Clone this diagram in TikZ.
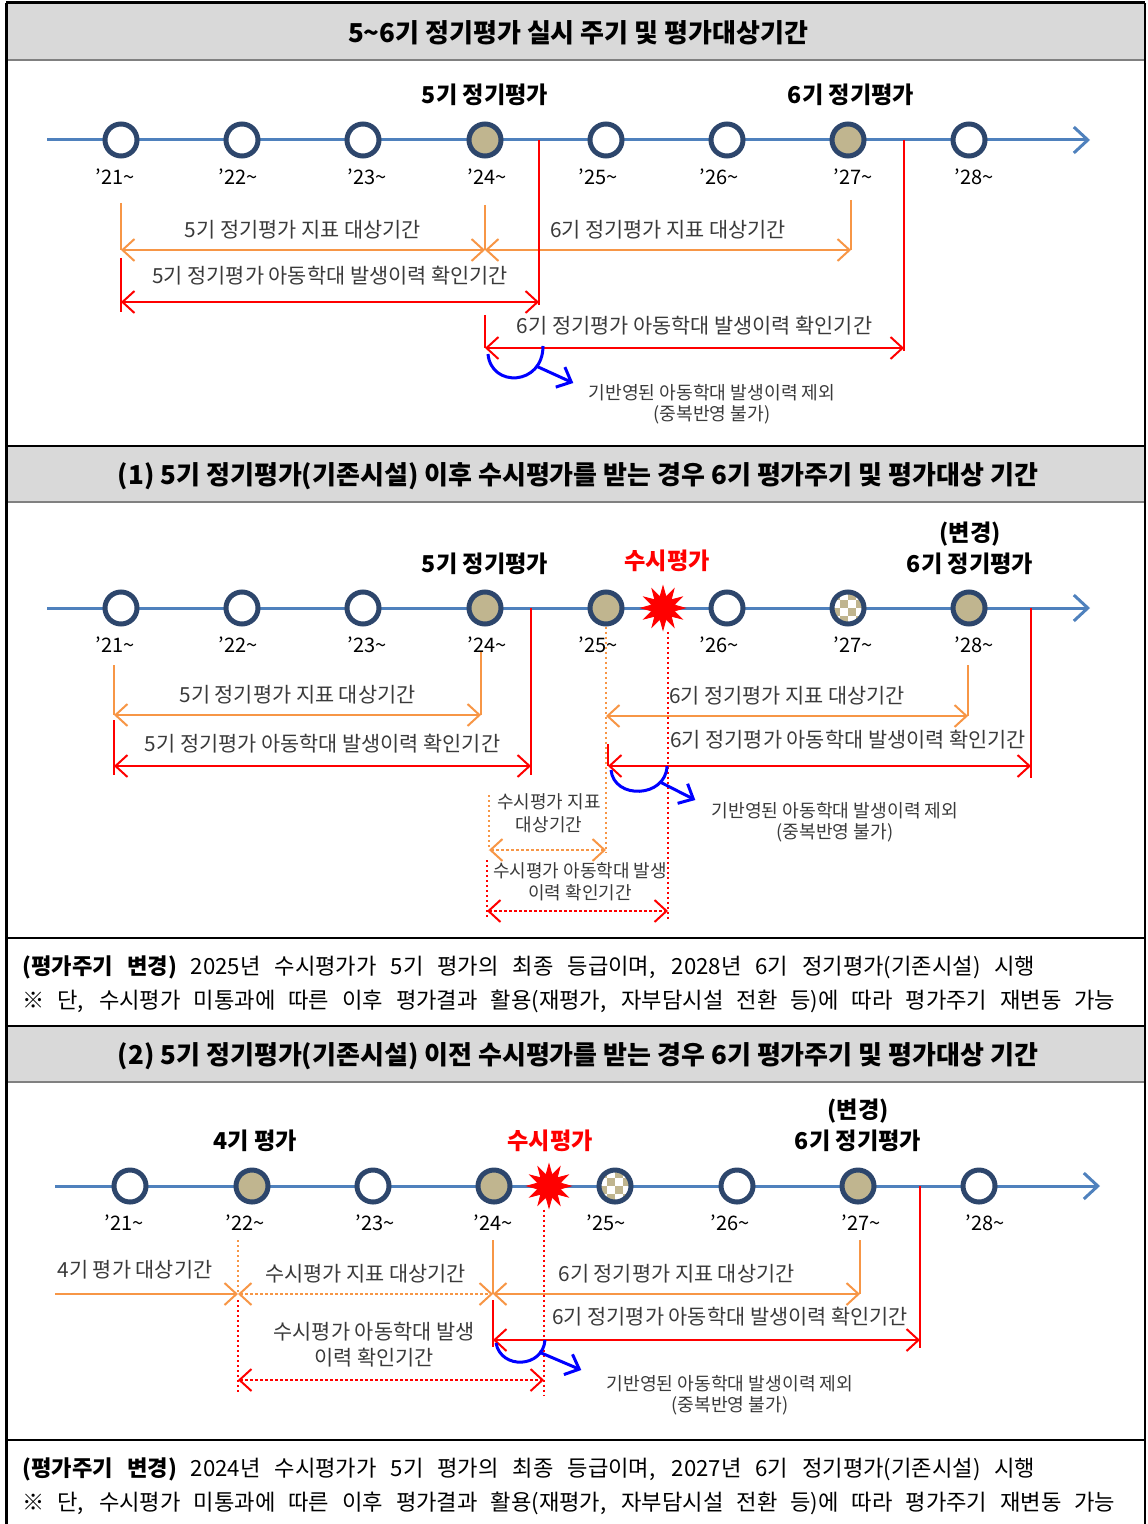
\documentclass[tikz,border=0pt]{standalone}
\usepackage{fontspec}
\setmainfont{Noto Sans CJK KR}
\usepackage{tikz}
\usetikzlibrary{calc}
\usetikzlibrary{arrows.meta}
\usetikzlibrary{shapes.geometric}

\definecolor{tlblue}{RGB}{79,129,189}
\definecolor{ringblue}{RGB}{45,70,108}
\definecolor{tanfill}{RGB}{192,181,143}
\definecolor{perorange}{RGB}{247,150,70}
\definecolor{headgray}{RGB}{217,217,217}
\definecolor{txtgray}{RGB}{58,58,58}

\begin{document}
\begin{tikzpicture}[x=0.5pt,y=-0.5pt]
  \tikzset{barbs/.style={>={Straight Barb[length=6pt,width=11pt]}}};
  \tikzset{tline/.style={draw=tlblue, line width=1.5pt, -{Straight Barb[length=7pt,width=13pt]}}};
  \tikzset{yr/.style={circle, draw=ringblue, line width=2.5pt, fill=white, minimum size=16pt, inner sep=0pt}};
  \tikzset{yrdone/.style={yr, fill=tanfill}};
  \tikzset{yrchk/.style={yr, fill=tanfill, path picture={
      \foreach \i/\j in {0/0,2/0,1/1,3/1,0/2,2/2,1/3,3/3}
        \fill[white] ($(path picture bounding box.south west)+(\i*4pt,\j*4pt)$) rectangle +(4pt,4pt);}}};
  \tikzset{yrlab/.style={inner sep=0pt, font=\fontsize{10}{10}\selectfont}};
  \tikzset{mstone/.style={inner sep=0pt, font=\fontsize{11.6}{12}\selectfont\bfseries}};
  \tikzset{susi/.style={mstone, text=red}};
  \tikzset{burst/.style={star, star points=12, star point ratio=1.9, fill=red, draw=red, minimum size=22pt, inner sep=0pt}};
  \tikzset{orng/.style={draw=perorange, line width=1pt}};
  \tikzset{rd/.style={draw=red, line width=1pt}};
  \tikzset{dots/.style={dash pattern=on 1.2pt off 1.3pt}};
  \tikzset{per/.style={inner sep=0pt, text=txtgray, font=\fontsize{10.4}{12}\selectfont}};
  \tikzset{persmall/.style={per, font=\fontsize{9}{11}\selectfont}};
  \tikzset{dup/.style={inner sep=0pt, text=txtgray, font=\fontsize{9.1}{10}\selectfont}};
  \tikzset{hook/.style={draw=blue, line width=1.5pt, >={Straight Barb[length=6pt,width=11pt]}}};
  \tikzset{hdr/.style={inner sep=0pt, font=\fontsize{13}{13}\selectfont\bfseries}};
  \tikzset{note/.style={inner sep=0pt, anchor=west, font=\fontsize{11.1}{12}\selectfont}};

  \useasboundingbox (0,0) rectangle (1147,1524);

  % frame and title bands
  \fill[headgray] (6,3) rectangle (1145,60);
  \fill[headgray] (6,447) rectangle (1145,502);
  \fill[headgray] (6,1027) rectangle (1145,1082);
  \draw[line width=1.5pt] (6,3) -- (1145,3);
  \draw[line width=1pt, gray] (6,60) -- (1145,60);
  \draw[line width=1.2pt] (6,446) -- (1145,446);
  \draw[line width=1pt, gray] (6,502) -- (1145,502);
  \draw[line width=0.6pt] (6,938) -- (1145,938);
  \draw[line width=1.2pt] (6,1026) -- (1145,1026);
  \draw[line width=1pt, gray] (6,1082) -- (1145,1082);
  \draw[line width=0.6pt] (6,1440) -- (1145,1440);
  \draw[line width=1.5pt] (6,3) -- (6,1524);
  \draw[line width=1pt] (1145,3) -- (1145,1524);

  \node[hdr] (h1) at (578,33) {5\textasciitilde6기 정기평가 실시 주기 및 평가대상기간};
  \node[hdr] (h2) at (578,476) {(1) 5기 정기평가(기존시설) 이후 수시평가를 받는 경우 6기 평가주기 및 평가대상 기간};
  \node[hdr] (h3) at (578,1056) {(2) 5기 정기평가(기존시설) 이전 수시평가를 받는 경우 6기 평가주기 및 평가대상 기간};

  %%% 5~6 regular cycle
  \coordinate (as) at (47,140);  \coordinate (ae) at (1090,140);
  \draw[tline] (as) -- (ae);
  \node[yr] (a21) at (121,140) {};
  \node[yr] (a22) at (242,140) {};
  \node[yr] (a23) at (363,140) {};
  \node[yrdone] (a24) at (485,140) {};
  \node[yr] (a25) at (606,140) {};
  \node[yr] (a26) at (727,140) {};
  \node[yrdone] (a27) at (848,140) {};
  \node[yr] (a28) at (969,140) {};
  \node[yrlab] at ($(a21)+(-6,37)$) {’21\textasciitilde};
  \node[yrlab] at ($(a22)+(-4,37)$) {’22\textasciitilde};
  \node[yrlab] at ($(a23)+(4,37)$) {’23\textasciitilde};
  \node[yrlab] at ($(a24)+(2,37)$) {’24\textasciitilde};
  \node[yrlab] at ($(a25)+(-8,37)$) {’25\textasciitilde};
  \node[yrlab] at ($(a26)+(-8,37)$) {’26\textasciitilde};
  \node[yrlab] at ($(a27)+(5,37)$) {’27\textasciitilde};
  \node[yrlab] at ($(a28)+(5,37)$) {’28\textasciitilde};
  \node[mstone] (a5t) at (485,95) {5기 정기평가};
  \node[mstone] (a6t) at (851,95) {6기 정기평가};

  \coordinate (a5il) at (121,250);  \coordinate (a5ir) at (485,250);
  \coordinate (a6ir) at (851,250);
  \draw[orng] ($(a5il)+(0,-47)$) -- (a5il);
  \draw[orng] ($(a5ir)+(0,-45)$) -- (a5ir);
  \draw[orng] ($(a6ir)+(0,-50)$) -- (a6ir);
  \draw[orng, barbs, <->] (a5il) -- (a5ir) node[per, midway, above=5pt] {5기 정기평가 지표 대상기간};
  \draw[orng, barbs, <->] (a5ir) -- (a6ir) node[per, midway, above=5pt] {6기 정기평가 지표 대상기간};

  \coordinate (a5hl) at (121,302);  \coordinate (a5hr) at (539,302);
  \draw[rd] ($(a5hl)+(0,-44)$) -- ($(a5hl)+(0,10)$);
  \draw[rd] (a5hr |- as) -- ($(a5hr)+(0,3)$);
  \draw[rd, barbs, <->] (a5hl) -- (a5hr) node[per, midway, above=8pt] {5기 정기평가 아동학대 발생이력 확인기간};

  \coordinate (a6hl) at (485,348);  \coordinate (a6hr) at (904,348);
  \draw[rd] ($(a6hl)+(0,-33)$) -- (a6hl);
  \draw[rd] (a6hr |- as) -- ($(a6hr)+(0,3)$);
  \draw[rd, barbs, <->] (a6hl) -- (a6hr) node[per, midway, above=6pt] {6기 정기평가 아동학대 발생이력 확인기간};

  \node[dup] (adup1) at (712,393) {기반영된 아동학대 발생이력 제외};
  \node[dup] (adup2) at (712,415) {(중복반영 불가)};
  \draw[hook] ($(a6hl)+(3,6)$) .. controls ($(a6hl)+(6,40)$) and ($(a6hl)+(58,38)$) .. ($(a6hl)+(58,-2)$);
  \draw[hook, ->] ($(a6hl)+(51,18)$) -- ($(adup1.west)+(-15,-10)$);

  %%% (1) 수시평가 after 5th
  \coordinate (bs) at (47,608);  \coordinate (be) at (1090,608);
  \draw[tline] (bs) -- (be);
  \node[yr] (b21) at (121,608) {};
  \node[yr] (b22) at (242,608) {};
  \node[yr] (b23) at (363,608) {};
  \node[yrdone] (b24) at (485,608) {};
  \node[yrdone] (b25) at (606,608) {};
  \node[yr] (b26) at (727,608) {};
  \node[yrchk] (b27) at (848,608) {};
  \node[yrdone] (b28) at (969,608) {};
  \node[burst] (bst) at (663,608) {};
  \node[yrlab] at ($(b21)+(-6,37)$) {’21\textasciitilde};
  \node[yrlab] at ($(b22)+(-4,37)$) {’22\textasciitilde};
  \node[yrlab] at ($(b23)+(4,37)$) {’23\textasciitilde};
  \node[yrlab] at ($(b24)+(2,37)$) {’24\textasciitilde};
  \node[yrlab] at ($(b25)+(-8,37)$) {’25\textasciitilde};
  \node[yrlab] at ($(b26)+(-8,37)$) {’26\textasciitilde};
  \node[yrlab] at ($(b27)+(5,37)$) {’27\textasciitilde};
  \node[yrlab] at ($(b28)+(5,37)$) {’28\textasciitilde};
  \node[mstone] (b5t) at (485,564) {5기 정기평가};
  \node[susi] (bsu) at (667,561) {수시평가};
  \node[mstone] (bchg) at (970,534) {(변경)};
  \node[mstone] (b6t) at (970,564) {6기 정기평가};

  \coordinate (b5il) at (114,715);  \coordinate (b5ir) at (481,715);
  \draw[orng] ($(b5il)+(0,-50)$) -- (b5il);
  \draw[orng] ($(b5ir)+(0,-63)$) -- (b5ir);
  \draw[orng, barbs, <->] (b5il) -- (b5ir) node[per, midway, above=5pt] {5기 정기평가 지표 대상기간};

  \coordinate (b5hl) at (114,766);  \coordinate (b5hr) at (531,766);
  \draw[rd] ($(b5hl)+(0,-46)$) -- ($(b5hl)+(0,9)$);
  \draw[rd] (b5hr |- bs) -- ($(b5hr)+(0,9)$);
  \draw[rd, barbs, <->] (b5hl) -- (b5hr) node[per, midway, above=6pt] {5기 정기평가 아동학대 발생이력 확인기간};

  \coordinate (b6il) at (606,716);  \coordinate (b6ir) at (968,716);
  \draw[orng] ($(b6ir)+(0,-51)$) -- (b6ir);
  \draw[orng, barbs, <->] (b6il) -- (b6ir) node[per, midway, above=5pt] {6기 정기평가 지표 대상기간};

  \coordinate (b6hl) at (608,766);  \coordinate (b6hr) at (1031,766);
  \draw[rd] ($(b6hl)+(0,-22)$) -- (b6hl);
  \draw[rd] (b6hr |- bs) -- ($(b6hr)+(0,12)$);
  \draw[rd, barbs, <->] (b6hl) -- (b6hr);
  \node[per] (b6hlab) at (848,740) {6기 정기평가 아동학대 발생이력 확인기간};

  \coordinate (bsil) at (489,850);  \coordinate (bsir) at (606,850);
  \coordinate (bshl) at (487,911);  \coordinate (bshr) at (668,911);
  \draw[orng, dots] (b25.south) -- ($(bsir)+(0,2)$);
  \draw[rd, dots] (bshr |- bst.south) -- ($(bshr)+(0,8)$);
  \draw[orng, dots] ($(bsil)+(0,-55)$) -- (bsil);
  \draw[orng, dots, barbs, <->] (bsil) -- (bsir);
  \node[persmall] (bsi1) at (549,802) {수시평가 지표};
  \node[persmall] (bsi2) at (549,825) {대상기간};
  \draw[rd, dots] ($(bshl)+(0,-51)$) -- ($(bshl)+(0,7)$);
  \draw[rd, dots, barbs, <->] (bshl) -- (bshr);
  \node[persmall] (bsh1) at (580,871) {수시평가 아동학대 발생};
  \node[persmall] (bsh2) at (580,893) {이력 확인기간};

  \node[dup] (bdup1) at (835,811) {기반영된 아동학대 발생이력 제외};
  \node[dup] (bdup2) at (835,833) {(중복반영 불가)};
  \draw[hook] ($(b6hl)+(3,4)$) .. controls ($(b6hl)+(6,34)$) and ($(b6hl)+(58,32)$) .. ($(b6hl)+(59,0)$);
  \draw[hook, ->] ($(b6hl)+(52,16)$) -- ($(bdup1.west)+(-16,-11)$);

  \node[note] (bn1) at (22,967) {\makebox[506.5pt][s]{\textbf{(평가주기 변경)} 2025년 수시평가가 5기 평가의 최종 등급이며, 2028년 6기 정기평가(기존시설) 시행}};
  \node[note] (bn2) at (22,1001) {\makebox[546.5pt][s]{※ 단, 수시평가 미통과에 따른 이후 평가결과 활용(재평가, 자부담시설 전환 등)에 따라 평가주기 재변동 가능}};

  %%% (2) 수시평가 before 5th
  \coordinate (cs) at (55,1186);  \coordinate (ce) at (1100,1186);
  \draw[tline] (cs) -- (ce);
  \node[yr] (c21) at (130,1186) {};
  \node[yrdone] (c22) at (252,1186) {};
  \node[yr] (c23) at (373,1186) {};
  \node[yrdone] (c24) at (494,1186) {};
  \node[yrchk] (c25) at (615,1186) {};
  \node[yr] (c26) at (737,1186) {};
  \node[yrdone] (c27) at (858,1186) {};
  \node[yr] (c28) at (979,1186) {};
  \node[burst] (cst) at (549,1186) {};
  \node[yrlab] at ($(c21)+(-6,37)$) {’21\textasciitilde};
  \node[yrlab] at ($(c22)+(-7,37)$) {’22\textasciitilde};
  \node[yrlab] at ($(c23)+(2,37)$) {’23\textasciitilde};
  \node[yrlab] at ($(c24)+(-1,37)$) {’24\textasciitilde};
  \node[yrlab] at ($(c25)+(-9,37)$) {’25\textasciitilde};
  \node[yrlab] at ($(c26)+(-7,37)$) {’26\textasciitilde};
  \node[yrlab] at ($(c27)+(3,37)$) {’27\textasciitilde};
  \node[yrlab] at ($(c28)+(6,37)$) {’28\textasciitilde};
  \node[mstone] (c4t) at (255,1141) {4기 평가};
  \node[susi] (csu) at (550,1141) {수시평가};
  \node[mstone] (cchg) at (858,1111) {(변경)};
  \node[mstone] (c6t) at (858,1141) {6기 정기평가};

  \coordinate (c4l) at (55,1294);  \coordinate (c4r) at (238,1294);
  \coordinate (csir) at (493,1294);  \coordinate (c6ir) at (860,1294);
  \draw[orng, barbs, ->] (c4l) -- (c4r);
  \node[per] (c4lab) at (135,1270) {4기 평가 대상기간};
  \draw[orng, dots] ($(c4r)+(0,-54)$) -- (c4r);
  \draw[orng, dots, barbs, <->] (c4r) -- (csir) node[per, midway, above=5pt] {수시평가 지표 대상기간};
  \draw[orng] ($(csir)+(0,-54)$) -- (csir);
  \draw[orng] ($(c6ir)+(0,-54)$) -- (c6ir);
  \draw[orng, barbs, <->] (csir) -- (c6ir) node[per, midway, above=5pt] {6기 정기평가 지표 대상기간};

  \coordinate (c6hl) at (493,1340);  \coordinate (c6hr) at (920,1340);
  \draw[rd] ($(c6hl)+(0,-40)$) -- ($(c6hl)+(0,7)$);
  \draw[rd] (c6hr |- cs) -- ($(c6hr)+(0,8)$);
  \draw[rd, barbs, <->] (c6hl) -- (c6hr);
  \node[per] (c6hlab) at (730,1317) {6기 정기평가 아동학대 발생이력 확인기간};

  \coordinate (cshl) at (238,1380);  \coordinate (cshr) at (544,1380);
  \draw[rd, dots] (cshr |- cst.south) -- ($(cshr)+(0,15)$);
  \draw[rd, dots] ($(cshl)+(0,-80)$) -- ($(cshl)+(0,12)$);
  \draw[rd, dots, barbs, <->] (cshl) -- (cshr);
  \node[per] (csh1) at (374,1332) {수시평가 아동학대 발생};
  \node[per] (csh2) at (374,1358) {이력 확인기간};

  \node[dup] (cdup1) at (730,1384) {기반영된 아동학대 발생이력 제외};
  \node[dup] (cdup2) at (730,1406) {(중복반영 불가)};
  \draw[hook] ($(c6hl)+(3,3)$) .. controls ($(c6hl)+(8,30)$) and ($(c6hl)+(50,28)$) .. ($(c6hl)+(52,0)$);
  \draw[hook, ->] ($(c6hl)+(46,12)$) -- ($(cdup1.west)+(-25,-14)$);

  \node[note] (cn1) at (22,1469) {\makebox[506.5pt][s]{\textbf{(평가주기 변경)} 2024년 수시평가가 5기 평가의 최종 등급이며, 2027년 6기 정기평가(기존시설) 시행}};
  \node[note] (cn2) at (22,1503) {\makebox[546.5pt][s]{※ 단, 수시평가 미통과에 따른 이후 평가결과 활용(재평가, 자부담시설 전환 등)에 따라 평가주기 재변동 가능}};
\end{tikzpicture}
\end{document}
